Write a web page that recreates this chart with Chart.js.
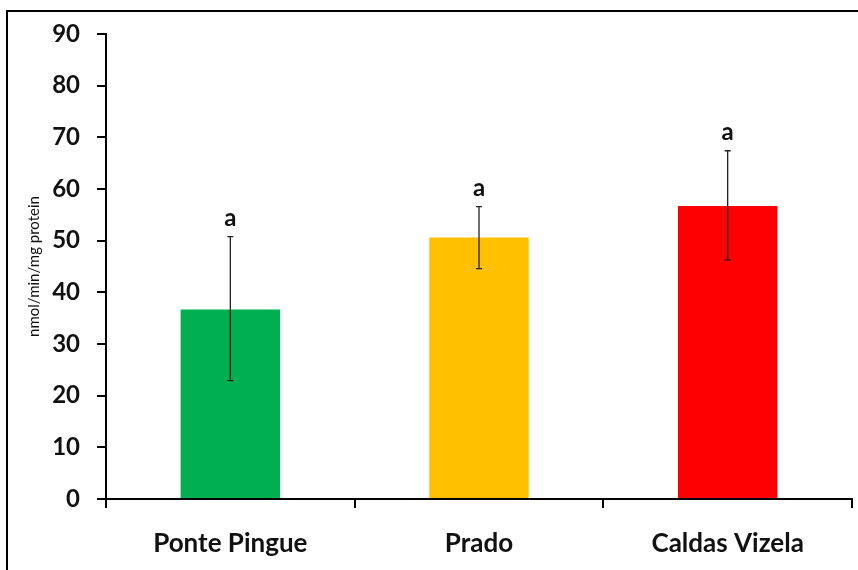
<!DOCTYPE html>
<html>
<head>
<meta charset="utf-8">
<script src="https://cdn.jsdelivr.net/npm/chart.js@4"></script>
<style>
  html, body { margin: 0; padding: 0; background: #fff; }
  #wrap { width: 858px; height: 570px; }
</style>
</head>
<body>
<div id="wrap"><canvas id="activityChart" width="858" height="570"></canvas></div>
<script>
const sites = ['Ponte Pingue', 'Prado', 'Caldas Vizela'];
const means = [36.7, 50.6, 56.7];
const errLow = [22.9, 44.6, 46.3];
const errHigh = [50.8, 56.6, 67.4];
const letters = ['a', 'a', 'a'];
const barColors = ['#00B050', '#FFC000', '#FF0000'];
const yTicks = [0, 10, 20, 30, 40, 50, 60, 70, 80, 90];

const fontFamily = 'Lato, "Open Sans", sans-serif';

// outer frame like the spreadsheet chart border
const framePlugin = {
  id: 'frame',
  beforeDraw(chart) {
    const c = chart.ctx;
    c.save();
    c.strokeStyle = '#000';
    c.lineWidth = 2;
    c.strokeRect(7, 11, 900, 600);
    c.restore();
  }
};

// error bars + significance letters
const errorPlugin = {
  id: 'errorBars',
  afterDatasetsDraw(chart) {
    const c = chart.ctx;
    const meta = chart.getDatasetMeta(0);
    const y = chart.scales.y;
    c.save();
    c.strokeStyle = '#222';
    c.lineWidth = 1.3;
    meta.data.forEach((bar, i) => {
      const x = bar.x;
      const top = y.getPixelForValue(errHigh[i]);
      const bot = y.getPixelForValue(errLow[i]);
      c.beginPath();
      c.moveTo(x, top); c.lineTo(x, bot);
      c.moveTo(x - 3, top); c.lineTo(x + 3, top);
      c.moveTo(x - 3, bot); c.lineTo(x + 3, bot);
      c.stroke();
      c.fillStyle = '#111';
      c.font = 'bold 24px ' + fontFamily;
      c.textAlign = 'center';
      c.textBaseline = 'alphabetic';
      c.fillText(letters[i], x, top - 11);
    });
    c.restore();
  }
};

new Chart(document.getElementById('activityChart'), {
  type: 'bar',
  data: {
    labels: sites,
    datasets: [{
      data: means,
      backgroundColor: barColors,
      borderWidth: 0,
      barPercentage: 0.4,
      categoryPercentage: 1.0
    }]
  },
  options: {
    responsive: false,
    animation: false,
    layout: { padding: { left: 0, top: 34, right: 6, bottom: 0 } },
    plugins: {
      legend: { display: false },
      tooltip: { enabled: false }
    },
    scales: {
      y: {
        min: 0,
        max: 90,
        afterFit(scale) { scale.width = 106; },
        afterBuildTicks(scale) { scale.ticks = yTicks.map(v => ({ value: v })); },
        border: { color: '#000', width: 2 },
        grid: { drawOnChartArea: false, color: '#000', lineWidth: 2, tickLength: 9 },
        ticks: {
          color: '#111',
          padding: 17,
          font: { family: fontFamily, size: 24, weight: 'bold' }
        },
        title: {
          display: true,
          text: 'nmol/min/mg protein',
          color: '#111',
          padding: { top: 25, bottom: 0 },
          font: { family: fontFamily, size: 15, weight: 'normal' }
        }
      },
      x: {
        afterFit(scale) { scale.height = 71; },
        border: { color: '#000', width: 2 },
        grid: { drawOnChartArea: false, offset: true, color: '#000', lineWidth: 2, tickLength: 9 },
        ticks: {
          color: '#111',
          padding: 20,
          font: { family: fontFamily, size: 26, weight: 'bold' }
        }
      }
    }
  },
  plugins: [framePlugin, errorPlugin]
});
</script>
</body>
</html>
